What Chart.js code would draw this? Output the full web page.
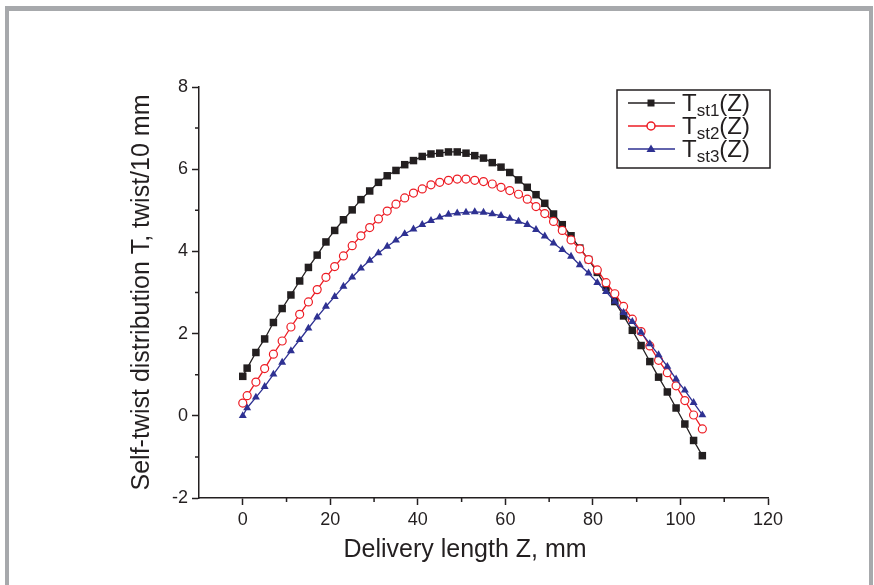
<!DOCTYPE html>
<html>
<head>
<meta charset="utf-8">
<script src="https://cdn.jsdelivr.net/npm/chart.js"></script>
<style>
  body { margin: 0; background: #fff; }
  #wrap { position: relative; width: 874px; height: 585px; }
  .bar { position: absolute; background: #a7a9ac; }
  canvas { position: absolute; left: 0; top: 0; }
</style>
</head>
<body>
<div id="wrap">
  <div class="bar" style="left:5px;top:6px;width:868px;height:5px"></div>
  <div class="bar" style="left:5px;top:6px;width:4px;height:579px"></div>
  <div class="bar" style="left:869px;top:6px;width:4px;height:579px"></div>
  <canvas id="twistChart" width="874" height="585"></canvas>
</div>
<script>
// delivery length Z, mm
const zValues = [0, 1, 3, 5, 7, 9, 11, 13, 15, 17, 19, 21, 23, 25, 27, 29, 31, 33,
  35, 37, 39, 41, 43, 45, 47, 49, 51, 53, 55, 57, 59, 61, 63, 65, 67, 69,
  71, 73, 75, 77, 79, 81, 83, 85, 87, 89, 91, 93, 95, 97, 99, 101, 103, 105];

// self-twist, twist/10 mm
const tst1 = [0.96, 1.16, 1.54, 1.87, 2.27, 2.61, 2.94, 3.28, 3.61, 3.91, 4.23, 4.51, 4.77, 5.01, 5.26, 5.47, 5.68, 5.84,
  5.97, 6.11, 6.21, 6.31, 6.37, 6.39, 6.42, 6.42, 6.39, 6.33, 6.27, 6.16, 6.05, 5.92, 5.74, 5.56, 5.38, 5.17,
  4.91, 4.65, 4.38, 4.08, 3.80, 3.49, 3.13, 2.78, 2.43, 2.08, 1.71, 1.32, 0.94, 0.58, 0.19, -0.20, -0.60, -0.97];
const tst2 = [0.31, 0.49, 0.82, 1.15, 1.50, 1.82, 2.16, 2.47, 2.77, 3.07, 3.37, 3.63, 3.89, 4.14, 4.38, 4.58, 4.79, 4.98,
  5.15, 5.30, 5.42, 5.52, 5.62, 5.68, 5.73, 5.76, 5.76, 5.73, 5.70, 5.64, 5.56, 5.48, 5.39, 5.27, 5.09, 4.92,
  4.73, 4.51, 4.28, 4.06, 3.80, 3.55, 3.24, 2.97, 2.66, 2.35, 2.05, 1.70, 1.35, 1.05, 0.73, 0.37, 0.02, -0.32];
const tst3 = [0.00, 0.19, 0.45, 0.71, 1.01, 1.30, 1.58, 1.85, 2.13, 2.40, 2.66, 2.90, 3.15, 3.37, 3.59, 3.78, 3.96, 4.12,
  4.27, 4.43, 4.54, 4.65, 4.75, 4.83, 4.90, 4.93, 4.95, 4.96, 4.95, 4.91, 4.87, 4.80, 4.73, 4.65, 4.53, 4.37,
  4.20, 4.04, 3.88, 3.67, 3.47, 3.24, 3.02, 2.78, 2.51, 2.29, 2.03, 1.75, 1.48, 1.20, 0.89, 0.62, 0.32, 0.02];

const seriesSubs = ['st1', 'st2', 'st3'];
const xTicks = [0, 20, 40, 60, 80, 100, 120];
const xMinorTicks = [10, 30, 50, 70, 90, 110];
const yTicks = [-2, 0, 2, 4, 6, 8];
const yMinorTicks = [-1, 1, 3, 5, 7];
const xTitle = 'Delivery length Z, mm';

const ink = '#231f20';
const fontFam = "'Liberation Sans', Arial, sans-serif";

function toPoints(ys) {
    return zValues.map((z, i) => ({ x: z, y: ys[i] }));
}

// short minor ticks, placed with the scales
const minorTicks = {
    id: 'minorTicks',
    afterDraw(chart) {
        const ctx = chart.ctx;
        const xs = chart.scales.x, ys = chart.scales.y;
        ctx.save();
        ctx.strokeStyle = ink;
        ctx.lineWidth = 1.5;
        ctx.beginPath();
        xMinorTicks.forEach(v => {
            const px = xs.getPixelForValue(v);
            ctx.moveTo(px, xs.top);
            ctx.lineTo(px, xs.top + 4);
        });
        yMinorTicks.forEach(v => {
            const py = ys.getPixelForValue(v);
            ctx.moveTo(ys.right, py);
            ctx.lineTo(ys.right - 4, py);
        });
        ctx.stroke();
        // x title sits a little left of the axis centre in the original
        ctx.fillStyle = ink;
        ctx.font = '25px ' + fontFam;
        ctx.textAlign = 'center';
        ctx.textBaseline = 'middle';
        ctx.fillText(xTitle, 465, 550);
        ctx.restore();
    }
};

// legend with subscripts
const subLegend = {
    id: 'subLegend',
    afterDraw(chart) {
        const ctx = chart.ctx;
        const box = { left: 617, top: 90, right: 770, bottom: 168 };
        ctx.save();
        ctx.strokeStyle = ink;
        ctx.lineWidth = 1.5;
        ctx.strokeRect(box.left, box.top, box.right - box.left, box.bottom - box.top);
        chart.data.datasets.forEach((ds, i) => {
            const y = 103 + i * 23;
            ctx.strokeStyle = ds.borderColor;
            ctx.lineWidth = 1.5;
            ctx.beginPath();
            ctx.moveTo(628, y);
            ctx.lineTo(675, y);
            ctx.stroke();
            const mx = 651;
            ctx.fillStyle = ds.pointBackgroundColor;
            ctx.strokeStyle = ds.pointBorderColor;
            ctx.beginPath();
            if (ds.pointStyle === 'rect') {
                ctx.rect(mx - 3.5, y - 3.5, 7, 7);
                ctx.fill();
            } else if (ds.pointStyle === 'circle') {
                ctx.arc(mx, y, 4, 0, Math.PI * 2);
                ctx.fill();
                ctx.stroke();
            } else {
                ctx.moveTo(mx, y - 4.5);
                ctx.lineTo(mx + 4.5, y + 3);
                ctx.lineTo(mx - 4.5, y + 3);
                ctx.closePath();
                ctx.fill();
            }
            ctx.fillStyle = ink;
            ctx.textAlign = 'left';
            ctx.textBaseline = 'alphabetic';
            let tx = 682;
            const base = y + 8;
            ctx.font = '24px ' + fontFam;
            ctx.fillText('T', tx, base);
            tx += ctx.measureText('T').width;
            ctx.font = '17px ' + fontFam;
            ctx.fillText(seriesSubs[i], tx, base + 5);
            tx += ctx.measureText(seriesSubs[i]).width;
            ctx.font = '24px ' + fontFam;
            ctx.fillText('(Z)', tx, base);
        });
        ctx.restore();
    }
};

const ctx = document.getElementById('twistChart').getContext('2d');
const chart = new Chart(ctx, {
    type: 'line',
    data: {
        datasets: [{
            label: 'Tst1(Z)',
            data: toPoints(tst1),
            borderColor: ink,
            borderWidth: 1.3,
            pointStyle: 'rect',
            pointRadius: 5.3,
            pointBackgroundColor: ink,
            pointBorderColor: ink,
            pointBorderWidth: 0,
            order: 3
        }, {
            label: 'Tst2(Z)',
            data: toPoints(tst2),
            borderColor: '#ed1c24',
            borderWidth: 1.3,
            pointStyle: 'circle',
            pointRadius: 4,
            pointBackgroundColor: '#ffffff',
            pointBorderColor: '#ed1c24',
            pointBorderWidth: 1.2,
            order: 2
        }, {
            label: 'Tst3(Z)',
            data: toPoints(tst3),
            borderColor: '#2e3192',
            borderWidth: 1.3,
            pointStyle: 'triangle',
            pointRadius: 4.6,
            pointBackgroundColor: '#2e3192',
            pointBorderColor: '#2e3192',
            pointBorderWidth: 0,
            order: 1
        }]
    },
    options: {
        responsive: false,
        animation: false,
        devicePixelRatio: 1,
        layout: { padding: { left: 123, right: 106, top: 87, bottom: 15 } },
        plugins: {
            legend: { display: false },
            tooltip: { enabled: false }
        },
        elements: { line: { tension: 0 } },
        scales: {
            x: {
                type: 'linear',
                min: -10,
                max: 120,
                afterBuildTicks: s => { s.ticks = xTicks.map(v => ({ value: v })); },
                afterFit: s => { s.height = 72; },
                grid: { drawOnChartArea: false, tickLength: 7, tickWidth: 1.5, tickColor: ink },
                border: { display: true, color: ink, width: 1.5 },
                ticks: { color: ink, font: { family: fontFam, size: 18 }, padding: 4, maxRotation: 0 },
                title: { display: false }
            },
            y: {
                min: -2,
                max: 8,
                afterBuildTicks: s => { s.ticks = yTicks.map(v => ({ value: v })); },
                afterFit: s => { s.width = 76; },
                grid: { drawOnChartArea: false, tickLength: 7, tickWidth: 1.5, tickColor: ink },
                border: { display: true, color: ink, width: 1.5 },
                ticks: { color: ink, font: { family: fontFam, size: 18 }, padding: 4 },
                title: {
                    display: true,
                    text: 'Self-twist distribution T, twist/10 mm',
                    color: ink,
                    font: { family: fontFam, size: 25 },
                    padding: { top: 4, bottom: 4 }
                }
            }
        }
    },
    plugins: [minorTicks, subLegend]
});
</script>
</body>
</html>
